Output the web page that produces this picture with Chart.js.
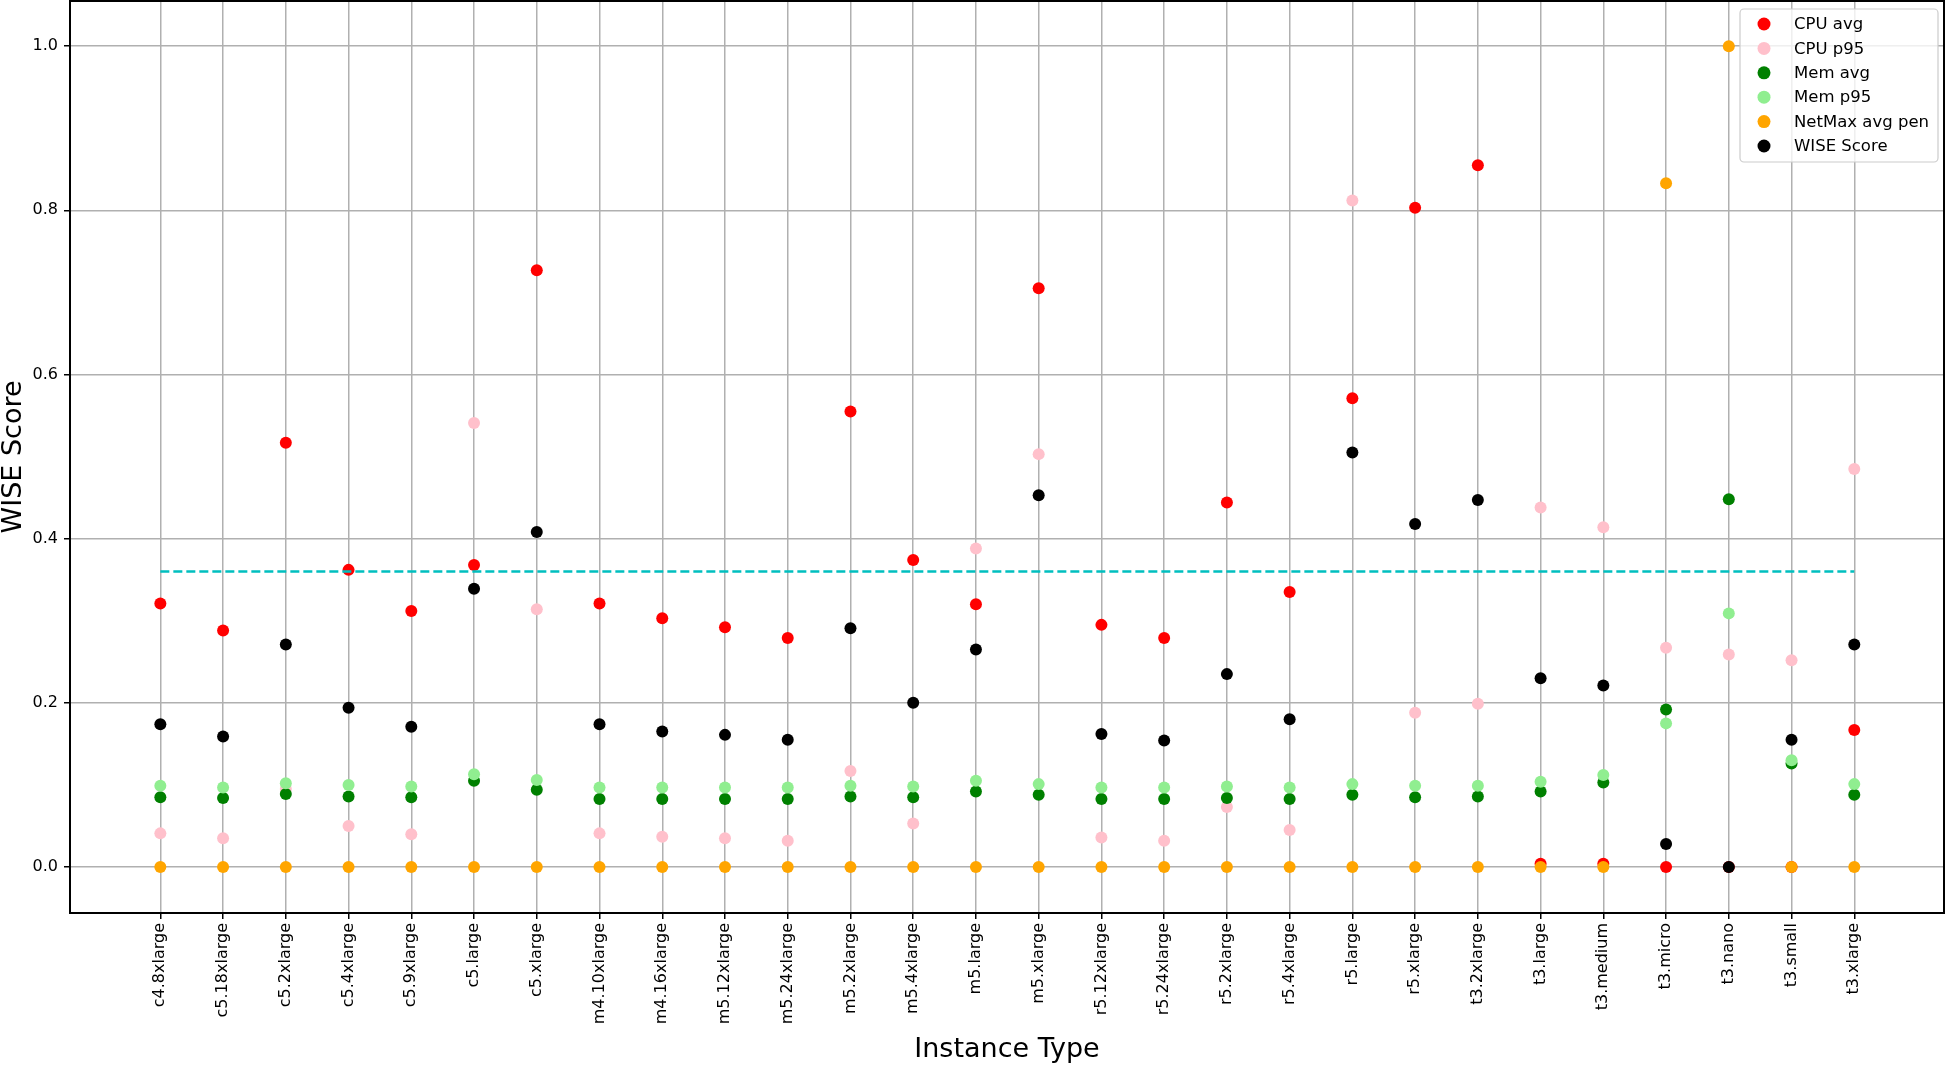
<!DOCTYPE html>
<html lang="en">
<head>
  <meta charset="UTF-8" />
  <title>WISE Score by instance type</title>
  <style>
    body { margin: 0; background: #fff; }
    #wrap { position: relative; width: 1946px; height: 1065px; }
  </style>
</head>
<body>
<div id="wrap"><canvas id="wiseChart"></canvas></div>

<script src="https://cdn.jsdelivr.net/npm/chart.js@4.4.3"></script>
<script>
  const instanceTypes = [
    'c4.8xlarge', 'c5.18xlarge', 'c5.2xlarge', 'c5.4xlarge', 'c5.9xlarge', 'c5.large', 'c5.xlarge',
    'm4.10xlarge', 'm4.16xlarge', 'm5.12xlarge', 'm5.24xlarge', 'm5.2xlarge', 'm5.4xlarge', 'm5.large',
    'm5.xlarge', 'r5.12xlarge', 'r5.24xlarge', 'r5.2xlarge', 'r5.4xlarge', 'r5.large', 'r5.xlarge',
    't3.2xlarge', 't3.large', 't3.medium', 't3.micro', 't3.nano', 't3.small', 't3.xlarge'
  ];

  const cpuAvg = [0.321, 0.288, 0.517, 0.362, 0.312, 0.368, 0.727, 0.321, 0.303, 0.292, 0.279, 0.555, 0.374, 0.320,
                  0.705, 0.295, 0.279, 0.444, 0.335, 0.571, 0.803, 0.855, 0.004, 0.004, 0.0, 0.0, 0.0, 0.167];
  const cpuP95 = [0.041, 0.035, 0.095, 0.050, 0.040, 0.541, 0.314, 0.041, 0.037, 0.035, 0.032, 0.117, 0.053, 0.388,
                  0.503, 0.036, 0.032, 0.073, 0.045, 0.812, 0.188, 0.199, 0.438, 0.414, 0.267, 0.259, 0.252, 0.485];
  const memAvg = [0.085, 0.084, 0.089, 0.086, 0.085, 0.105, 0.094, 0.083, 0.083, 0.083, 0.083, 0.086, 0.085, 0.092,
                  0.088, 0.083, 0.083, 0.084, 0.083, 0.088, 0.085, 0.086, 0.092, 0.103, 0.192, 0.448, 0.126, 0.088];
  const memP95 = [0.099, 0.097, 0.102, 0.100, 0.098, 0.113, 0.106, 0.097, 0.097, 0.097, 0.097, 0.099, 0.098, 0.105,
                  0.101, 0.097, 0.097, 0.098, 0.097, 0.101, 0.099, 0.099, 0.104, 0.112, 0.175, 0.309, 0.130, 0.101];
  const netMaxPen = [0, 0, 0, 0, 0, 0, 0, 0, 0, 0, 0, 0, 0, 0,
                     0, 0, 0, 0, 0, 0, 0, 0, 0, 0, 0.833, 1.0, 0, 0];
  const wiseScore = [0.174, 0.159, 0.271, 0.194, 0.171, 0.339, 0.408, 0.174, 0.165, 0.161, 0.155, 0.291, 0.200, 0.265,
                     0.453, 0.162, 0.154, 0.235, 0.180, 0.505, 0.418, 0.447, 0.230, 0.221, 0.028, 0.0, 0.155, 0.271];
  const wiseThreshold = 0.36;
  const yTicks = [0.0, 0.2, 0.4, 0.6, 0.8, 1.0];

  const series = [
    { label: 'CPU avg', values: cpuAvg, color: '#ff0000' },
    { label: 'CPU p95', values: cpuP95, color: '#ffc0cb' },
    { label: 'Mem avg', values: memAvg, color: '#008000' },
    { label: 'Mem p95', values: memP95, color: '#90ee90' },
    { label: 'NetMax avg pen', values: netMaxPen, color: '#ffa500' },
    { label: 'WISE Score', values: wiseScore, color: '#000000' }
  ];

  const FONT = "'DejaVu Sans', sans-serif";

  const datasets = series.map((s, i) => ({
    label: s.label,
    data: s.values.map((v, k) => ({ x: k, y: v })),
    backgroundColor: s.color,
    borderWidth: 0,
    pointRadius: 6,
    pointHoverRadius: 6,
    order: series.length - i   // later series drawn on top, like matplotlib
  }));

  datasets.push({
    label: 'threshold',
    data: [{ x: 0, y: wiseThreshold }, { x: instanceTypes.length - 1, y: wiseThreshold }],
    showLine: true,
    borderColor: '#00bfbf',
    borderWidth: 2.5,
    borderDash: [9, 4],
    pointRadius: 0,
    order: -1
  });

  // frame around the plot area
  const framePlugin = {
    id: 'frame',
    afterDatasetsDraw(chart) {
      const { ctx, chartArea: a } = chart;
      ctx.save();
      ctx.strokeStyle = '#000';
      ctx.lineWidth = 2;
      ctx.strokeRect(a.left, a.top, a.right - a.left, a.bottom - a.top);
      ctx.restore();
    }
  };

  // matplotlib-like legend box in the upper right corner
  const boxLegend = {
    id: 'boxLegend',
    afterDraw(chart) {
      const { ctx, chartArea: a } = chart;
      const items = chart.data.datasets.filter(d => d.label !== 'threshold');
      const w = 198, rowH = 24.4, h = 153;
      const x0 = a.right - 6 - w, y0 = a.top + 8;
      ctx.save();
      ctx.fillStyle = 'rgba(255,255,255,0.8)';
      ctx.strokeStyle = '#cccccc';
      ctx.lineWidth = 1.2;
      ctx.beginPath();
      ctx.roundRect(x0, y0, w, h, 4);
      ctx.fill();
      ctx.stroke();
      ctx.font = '16.5px ' + FONT;
      ctx.textBaseline = 'middle';
      items.forEach((d, i) => {
        const cy = y0 + 15 + i * rowH;
        ctx.fillStyle = d.backgroundColor;
        ctx.beginPath();
        ctx.arc(x0 + 24, cy, 6.5, 0, Math.PI * 2);
        ctx.fill();
        ctx.fillStyle = '#000';
        ctx.fillText(d.label, x0 + 54, cy + 1);
      });
      ctx.restore();
    }
  };

  new Chart(document.getElementById('wiseChart'), {
    type: 'scatter',
    data: { datasets },
    options: {
      responsive: true,
      maintainAspectRatio: false,
      animation: false,
      layout: { autoPadding: false, padding: { top: 1, right: 2, left: 0, bottom: 0 } },
      plugins: { legend: { display: false }, tooltip: { enabled: false } },
      scales: {
        x: {
          type: 'linear',
          min: -1.44,
          max: 28.43,
          afterBuildTicks: scale => { scale.ticks = instanceTypes.map((_, i) => ({ value: i })); },
          afterFit: scale => {
            scale.height = 152;
            scale.paddingLeft = 0;
            scale.paddingRight = 0;
          },
          ticks: {
            autoSkip: false,
            minRotation: 90,
            maxRotation: 90,
            padding: 4,
            color: '#000',
            font: { family: FONT, size: 16 },
            callback: v => instanceTypes[v]
          },
          grid: { color: '#b0b0b0', lineWidth: 1.5, tickColor: '#000', tickLength: 6, tickWidth: 1.5 },
          border: { display: false },
          title: {
            display: true,
            text: 'Instance Type',
            color: '#000',
            font: { family: FONT, size: 27, lineHeight: 1 },
            padding: { top: 0, bottom: 2 }
          }
        },
        y: {
          min: -0.056,
          max: 1.055,
          afterBuildTicks: scale => { scale.ticks = yTicks.map(v => ({ value: v })); },
          afterFit: scale => {
            scale.width = 70;
            scale.paddingTop = 0;
            scale.paddingBottom = 0;
          },
          ticks: {
            padding: 6,
            color: '#000',
            font: { family: FONT, size: 16 },
            callback: v => v.toFixed(1)
          },
          grid: { color: '#b0b0b0', lineWidth: 1.5, tickColor: '#000', tickLength: 6, tickWidth: 1.5 },
          border: { display: false },
          title: {
            display: true,
            text: 'WISE Score',
            color: '#000',
            font: { family: FONT, size: 27, lineHeight: 1 },
            padding: { top: 0, bottom: 0 }
          }
        }
      }
    },
    plugins: [framePlugin, boxLegend]
  });
</script>
</body>
</html>
